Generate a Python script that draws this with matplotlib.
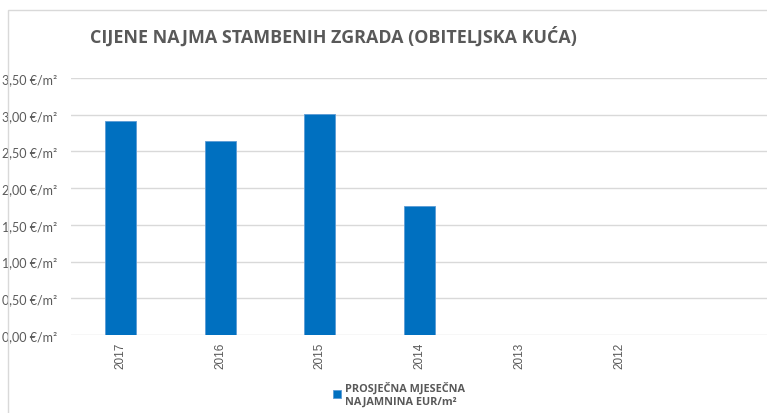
import matplotlib
matplotlib.use("Agg")
import matplotlib.pyplot as plt
from matplotlib.patches import Rectangle

categories = ["2017", "2016", "2015", "2014", "2013", "2012", ""]
values = [2.91, 2.64, 3.01, 1.76, 0.0, 0.0, 0.0]
yticks = [0.0, 0.5, 1.0, 1.5, 2.0, 2.5, 3.0, 3.5]
ytick_labels = ["0,00 €/m²", "0,50 €/m²", "1,00 €/m²", "1,50 €/m²",
                "2,00 €/m²", "2,50 €/m²", "3,00 €/m²", "3,50 €/m²"]
title = "CIJENE NAJMA STAMBENIH ZGRADA (OBITELJSKA KUĆA)"
series_name = "PROSJEČNA MJESEČNA\nNAJAMNINA EUR/m²"

plt.rcParams['font.family'] = ['Lato', 'DejaVu Sans']
W, H = 767, 414
fig = plt.figure(figsize=(W / 100, H / 100), dpi=100)
fig.patch.set_facecolor("white")

fig.patches.append(Rectangle((8 / W, -0.05), 1.1, 1 - 11 / H + 0.05,
                             transform=fig.transFigure, fill=False,
                             edgecolor="#d9d9d9", linewidth=1.0))

ax = fig.add_axes([70.7 / W, 1 - 336 / H, (W - 70.7) / W + 0.002, (336 - 79) / H])
x = list(range(len(categories)))
bars = ax.bar(x, values, width=0.31, color="#0070c0", edgecolor="#5b9bd5",
              linewidth=0.6, label=series_name, zorder=3)
ax.set_xlim(-0.5, len(categories) - 0.5)
ax.set_ylim(0, 3.5)
ax.set_yticks(yticks)
ax.set_yticklabels(ytick_labels)
ax.set_xticks(x)
ax.set_xticklabels(categories, rotation=90, fontfamily=['Liberation Sans', 'DejaVu Sans'])
ax.tick_params(axis='both', length=0, colors="#595959")
ax.tick_params(axis='y', pad=9.8, labelsize=9.0)
ax.tick_params(axis='x', pad=5, labelsize=8.5)
ax.grid(axis='y', color="#d9d9d9", linewidth=1.0, zorder=0)
for s in ax.spines.values():
    s.set_visible(False)

bold_fam = ['Open Sans', 'DejaVu Sans']
ttl = fig.text(90 / W, 1 - 37 / H, title, fontsize=14, fontweight='bold',
               family=bold_fam, color="#595959", va='center', ha='left')

leg = fig.legend(handles=[bars], labels=[series_name], loc='center left',
                 bbox_to_anchor=(333 / W, 1 - 395 / H), frameon=False,
                 fontsize=8, handlelength=0.7, handleheight=0.7,
                 handletextpad=0.4, borderpad=0, borderaxespad=0,
                 prop={'family': bold_fam, 'weight': 'bold', 'size': 8})
for t in leg.get_texts():
    t.set_color("#595959")

# fit title width and legend text width to the reference
fig.canvas.draw()
r = fig.canvas.get_renderer()
w = ttl.get_window_extent(r).width
ttl.set_fontsize(14 * 488 / w)
lt = leg.get_texts()[0]
w2 = lt.get_window_extent(r).width
lt.set_fontsize(8 * 120 / w2)

fig.savefig("out.png", dpi=100)
